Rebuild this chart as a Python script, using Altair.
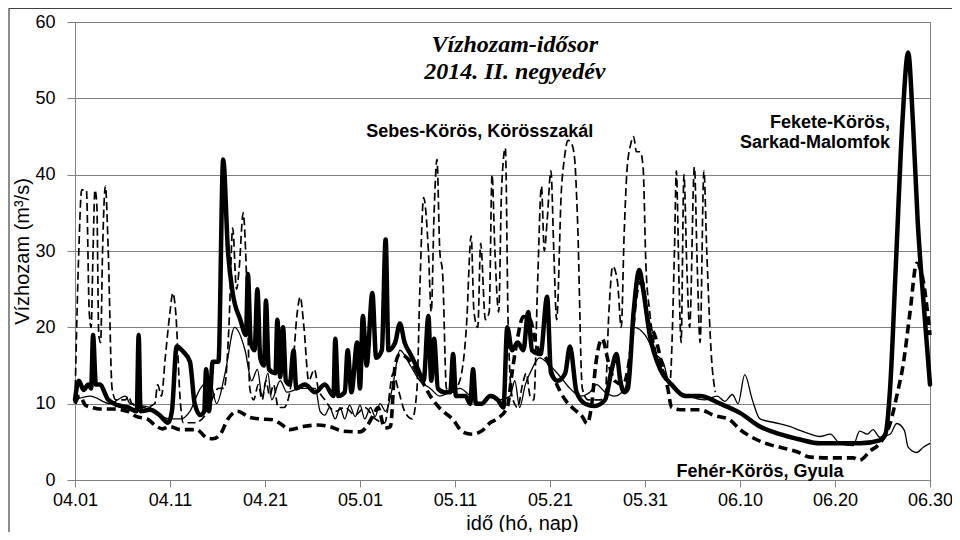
import json
import altair as alt
import pandas as pd

# x = day index from 04.01 (0) to 06.30 (90); y = discharge in m3/s
tick_days = [0, 10, 20, 30, 40, 50, 60, 70, 80, 90]
tick_labels = ["04.01", "04.11", "04.21", "05.01", "05.11", "05.21", "05.31", "06.10", "06.20", "06.30"]
y_ticks = [0, 10, 20, 30, 40, 50, 60]

# Fekete-Körös, Sarkad-Malomfok (thick solid)
fekete = [
    (0, 10.5), (0.4, 13), (0.9, 11.8), (1.4, 12.5), (1.7, 12), (1.9, 19), (2.2, 12.5), (2.6, 12.5),
    (3.5, 10.5), (4.5, 9.8), (5.6, 9.5), (6.5, 9), (6.7, 19), (6.9, 9), (7.9, 9.2), (8.9, 8.5),
    (9.8, 7.5), (10.2, 9), (10.7, 17.5), (11.4, 16.8), (12.1, 15.5), (12.6, 10), (13.2, 8.5),
    (13.6, 9), (13.8, 14.5), (14.1, 9), (14.5, 15.5), (15.1, 15.5), (15.6, 42), (16.1, 30),
    (16.6, 24.5), (17.4, 21), (18.0, 19), (18.2, 27), (18.5, 18), (18.9, 17), (19.2, 25),
    (19.5, 16), (19.9, 15), (20.1, 23.5), (20.4, 14.5), (21.1, 14), (21.3, 21), (21.6, 13.5),
    (21.9, 20), (22.2, 13), (22.6, 12.5), (23.0, 17), (23.3, 12), (24.2, 12.5), (25.3, 11.5),
    (26.3, 12.5), (27.2, 11), (27.4, 18.5), (27.7, 11), (28.4, 11.5), (28.7, 17), (29.1, 11.5),
    (29.7, 18), (30.0, 12), (30.3, 21.5), (30.7, 15), (31.3, 24.5), (31.7, 16), (32.3, 17),
    (32.7, 31.5), (33.0, 17), (33.7, 18), (34.2, 20.5), (34.7, 18), (35.3, 16.5), (36.1, 14.5),
    (36.7, 13), (37.2, 21.5), (37.5, 13), (37.8, 18.5), (38.2, 12), (38.9, 11.5), (39.5, 11.5),
    (39.8, 16.5), (40.1, 11), (41.1, 11), (41.6, 10), (41.9, 14.5), (42.2, 10), (42.8, 10),
    (43.7, 11), (44.5, 10.5), (45.1, 9.5), (45.5, 20), (46.0, 17), (46.6, 18), (47.2, 17),
    (47.7, 22), (48.1, 17), (49.0, 16.5), (49.7, 24), (50.1, 14), (50.8, 13), (51.6, 14),
    (52.1, 17.5), (52.8, 11.5), (53.7, 10), (54.7, 9.7), (55.8, 10.5), (56.5, 14.5), (57.0, 16.5),
    (57.4, 13), (57.8, 11.5), (58.2, 12), (58.8, 22), (59.4, 27.5), (59.8, 25), (60.5, 19),
    (61.6, 14.5), (62.8, 12.5), (64.2, 11), (65.8, 11), (67.9, 10), (70.0, 8.8), (72.1, 7),
    (74.2, 6), (76.3, 5.3), (78.4, 4.8), (82.6, 4.8), (84.7, 5.2), (85.3, 6), (85.8, 12),
    (86.4, 28), (87.1, 47), (87.7, 56), (88.2, 47), (88.7, 34), (89.4, 22), (90.0, 12.5),
]

# Sebes-Körös, Körösszakál (thin dashed)
sebes = [
    (0, 10.5), (0.4, 30), (0.7, 38), (1.2, 38), (1.5, 22), (1.7, 20), (1.9, 30), (2.1, 38),
    (2.3, 36), (2.5, 19), (2.7, 18), (2.9, 30), (3.2, 38.5), (3.5, 30), (3.9, 12), (4.3, 10.5),
    (5.3, 10.5), (5.6, 11), (6.0, 10), (7.4, 9.5), (8.4, 10), (8.7, 12.5), (9.1, 11), (9.5, 16),
    (10.0, 22), (10.3, 24.5), (10.6, 22), (11.1, 10), (11.4, 7.5), (12.6, 7.5), (13.7, 8.5),
    (14.4, 10.5), (15.1, 12), (15.7, 12), (16.2, 20), (16.6, 33), (17.0, 25), (17.3, 28),
    (17.7, 35), (18.1, 25), (18.4, 12), (18.8, 10.5), (19.3, 12.5), (19.7, 10.5), (20.1, 13),
    (20.5, 11), (20.9, 12.5), (21.4, 9.5), (22.0, 9.5), (22.8, 13), (23.4, 22), (23.7, 24),
    (24.1, 20), (24.6, 13), (25.2, 14.5), (25.6, 12), (26.3, 10.5), (27.4, 9), (28.4, 9.5),
    (29.5, 8.5), (30.5, 9.5), (31.6, 8), (32.6, 7.5), (33.5, 14), (34.0, 12), (34.7, 9),
    (35.5, 8), (36.0, 12), (36.3, 25), (36.7, 37), (37.2, 30), (37.5, 22), (37.8, 35),
    (38.1, 42), (38.4, 30), (38.7, 27), (39.1, 12), (39.7, 11.5), (40.5, 13), (41.2, 20),
    (41.7, 32), (42.0, 22), (42.4, 20), (42.7, 31), (43.2, 21), (43.6, 22), (43.9, 40),
    (44.2, 30), (44.6, 22), (44.9, 38), (45.3, 43.5), (45.6, 20), (46.0, 11), (46.6, 9.5),
    (47.1, 12.5), (47.5, 14), (47.9, 11), (48.3, 10.5), (48.7, 26), (49.1, 38.5), (49.4, 30),
    (49.7, 34), (50.1, 40.5), (50.4, 30), (50.7, 21), (51.2, 38), (51.5, 42), (51.9, 44.5),
    (52.3, 44), (52.6, 42), (52.9, 34), (53.4, 12), (54.0, 10.5), (55.3, 10.5), (55.8, 11),
    (56.2, 22), (56.6, 28), (57.1, 26), (57.5, 20), (57.8, 32), (58.1, 40.5), (58.5, 44),
    (58.8, 45), (59.1, 43), (59.5, 43), (59.8, 41), (60.1, 28), (60.5, 22), (61.1, 17),
    (61.9, 14.5), (62.6, 12.5), (63.1, 30), (63.3, 40.5), (63.6, 25), (63.8, 18), (64.1, 40),
    (64.4, 28), (64.7, 20), (65.2, 41), (65.5, 28), (65.8, 18), (66.2, 40.5), (66.5, 30),
    (67.0, 16), (67.4, 11.5),
]

# Fehér-Körös, Gyula (thick dashed)
feher = [
    (0, 10), (0.5, 11), (1.1, 9.8), (1.8, 9.5), (2.6, 9.3), (4.0, 9.3), (5.5, 9), (6.5, 8.3),
    (7.6, 8), (8.6, 7), (9.2, 6.7), (10.0, 7), (11.1, 6.6), (12.8, 6.6), (13.9, 5.5), (14.5, 5.4),
    (15.3, 6), (16.1, 8), (17.1, 9), (18.4, 8.2), (19.5, 8), (20.8, 7.9), (21.6, 7.4), (22.6, 6.6),
    (24.0, 7), (25.5, 7.2), (26.8, 7), (28.2, 6.4), (30.0, 6.3), (30.7, 7), (31.4, 8.5),
    (31.9, 9.5), (32.6, 6.8), (33.2, 7), (33.7, 15), (34.2, 16.5), (35.3, 15.5), (36.3, 13.5),
    (37.4, 11), (38.4, 9.4), (39.8, 7.9), (40.8, 6.3), (41.8, 6), (43.0, 6.6), (43.7, 7.5),
    (44.4, 8), (45.5, 9.5), (46.0, 14), (46.5, 18), (47.2, 21.4), (47.9, 21), (48.6, 17.5),
    (49.7, 15.7), (50.5, 13.1), (51.6, 10.5), (52.6, 9.2), (53.4, 8.3), (53.9, 7.4), (54.4, 10),
    (54.8, 15), (55.5, 18.5), (56.1, 15.7), (56.8, 13), (57.7, 12.5), (58.4, 16), (59.2, 25),
    (59.7, 26), (60.2, 21.5), (61.1, 18.7), (61.8, 15), (62.4, 12), (62.8, 9.5), (63.7, 9.2),
    (65.8, 9.2), (67.2, 8.5), (68.9, 7.9), (70.0, 6.6), (71.4, 5.5), (73.2, 4.6), (74.2, 4.3),
    (76.0, 3.7), (77.4, 3), (79.5, 2.9), (81.9, 2.9), (82.6, 2.6), (83.7, 3.8), (84.7, 4.8),
    (85.8, 7.4), (86.5, 11), (87.2, 15.3), (87.9, 22), (88.6, 28.4), (89.3, 26), (90.0, 19),
]

# unlabelled thin solid series
vekony = [
    (0, 10.5), (1.6, 11), (3.7, 10), (5.3, 11), (5.8, 10), (7.9, 9.5), (8.9, 8.5), (10.0, 8),
    (11.1, 8), (12.1, 9), (13.2, 12), (14.2, 13), (14.9, 10), (15.8, 14), (16.8, 20), (17.9, 17),
    (18.6, 13), (19.2, 14.5), (19.7, 11), (20.3, 14), (20.7, 10.5), (21.6, 13), (22.3, 11.5),
    (23.7, 12), (25.3, 12), (25.8, 9), (26.3, 8.5), (26.8, 9.5), (27.4, 8), (27.9, 9.5),
    (28.4, 8), (28.9, 9.8), (29.5, 8.3), (30.0, 9.8), (30.5, 8), (31.1, 9.5), (31.6, 8.3),
    (32.1, 10), (32.7, 9), (33.4, 12), (34.2, 17), (35.3, 15), (36.3, 13), (37.4, 12),
    (38.4, 11), (39.5, 11.5), (40.5, 12), (41.6, 11), (42.6, 10), (43.7, 11), (44.7, 10.5),
    (45.8, 11), (46.3, 13), (46.8, 9.5), (47.4, 12.5), (47.9, 14), (48.9, 16), (50.0, 15),
    (51.1, 13.5), (52.1, 12), (53.2, 11), (54.2, 11.5), (54.9, 12.5), (55.8, 11.5), (56.8, 11),
    (57.9, 12), (58.9, 20), (60.0, 19), (61.1, 16.5), (61.9, 15.5), (62.6, 12.5), (64.7, 11),
    (66.3, 10.5), (67.6, 11), (68.4, 10.3), (69.2, 11.2), (69.8, 10), (70.5, 13.8), (71.3, 10.5),
    (72.1, 8), (73.7, 7.5), (75.3, 7), (76.3, 6.5), (77.4, 6), (78.4, 5.7), (79.5, 6),
    (80.5, 4.8), (81.9, 4.5), (82.6, 6.4), (83.4, 6), (84.0, 6.6), (84.7, 5.6), (85.8, 6),
    (86.5, 7.4), (87.3, 6.5), (87.7, 4.3), (88.6, 3.6), (89.3, 4.3), (90.0, 4.8),
]

# annotations (day, value, text)
title_lines = [(46.3, 57.0, "Vízhozam-idősor"), (46.3, 53.5, "2014. II. negyedév")]
label_center = [(42.6, 45.6, "Sebes-Körös, Körösszakál"), (72.1, 1.1, "Fehér-Körös, Gyula")]
label_right = [(85.8, 46.8, "Fekete-Körös,"), (85.8, 44.2, "Sarkad-Malomfok")]


def df(pairs):
    return pd.DataFrame(pairs, columns=["nap", "q"])


def tdf(rows):
    return pd.DataFrame(rows, columns=["nap", "q", "txt"])


label_expr = json.dumps(tick_labels) + "[round(datum.value / 10)]"

x_enc = alt.X(
    "nap:Q",
    scale=alt.Scale(domain=[0, 90], nice=False, zero=False),
    axis=alt.Axis(
        values=tick_days, labelExpr=label_expr, grid=False,
        title="idő (hó, nap)", titleFontSize=20, titleFontWeight="normal",
        titleFont="Liberation Sans", titleColor="black",
        titleX=447, titleY=43, titleBaseline="middle",
        labelFont="Liberation Sans", labelFontSize=18, labelColor="black",
        labelPadding=4, tickSize=7, tickColor="#808080", domainColor="#808080",
        labelFlush=False,
    ),
)
y_enc = alt.Y(
    "q:Q",
    scale=alt.Scale(domain=[0, 60], nice=False),
    axis=alt.Axis(
        values=y_ticks, grid=True, gridColor="#808080", gridWidth=1,
        title="Vízhozam (m³/s)", titleFontSize=20, titleFontWeight="normal",
        titleFont="Liberation Sans", titleColor="black",
        titleX=-53, titleY=229, titleBaseline="middle",
        labelFont="Liberation Sans", labelFontSize=18, labelColor="black",
        labelPadding=12, tickSize=8, tickColor="#808080", domainColor="#808080",
    ),
)

line_kw = dict(interpolate="monotone", color="black", strokeJoin="round")

l_sebes = alt.Chart(df(sebes)).mark_line(strokeWidth=1.7, strokeDash=[8, 4], **line_kw).encode(x=x_enc, y=y_enc)
l_vekony = alt.Chart(df(vekony)).mark_line(strokeWidth=1.3, **line_kw).encode(x=x_enc, y=y_enc)
l_feher = alt.Chart(df(feher)).mark_line(strokeWidth=3.6, strokeDash=[9, 5], **line_kw).encode(x=x_enc, y=y_enc)
l_fekete = alt.Chart(df(fekete)).mark_line(strokeWidth=4.5, strokeCap="round", **line_kw).encode(x=x_enc, y=y_enc)

t_title = alt.Chart(tdf(title_lines)).mark_text(
    font="Liberation Serif", fontSize=24, fontStyle="italic", fontWeight="bold",
    align="center", baseline="middle", color="black",
).encode(x="nap:Q", y="q:Q", text="txt:N")

t_center = alt.Chart(tdf(label_center)).mark_text(
    font="Liberation Sans", fontSize=18, fontWeight="bold",
    align="center", baseline="middle", color="black",
).encode(x="nap:Q", y="q:Q", text="txt:N")

t_right = alt.Chart(tdf(label_right)).mark_text(
    font="Liberation Sans", fontSize=18, fontWeight="bold",
    align="right", baseline="middle", color="black",
).encode(x="nap:Q", y="q:Q", text="txt:N")

dummy = pd.DataFrame({"a": [0]})
frame_top = alt.Chart(dummy).mark_rule(color="#404040", strokeWidth=1.2).encode(
    x=alt.value(-66), x2=alt.value(885), y=alt.value(-13.5)
)
frame_left = alt.Chart(dummy).mark_rule(color="#404040", strokeWidth=1.2).encode(
    x=alt.value(-66), y=alt.value(-14), y2=alt.value(520)
)

chart = alt.layer(
    l_sebes, l_vekony, l_feher, l_fekete, t_title, t_center, t_right, frame_top, frame_left
).properties(
    width=855, height=458,
    autosize=alt.AutoSizeParams(type="none"),
    padding={"left": 67, "top": 14, "right": 22, "bottom": 52},
    background="white",
).configure_view(stroke="#808080", strokeWidth=1)

chart.save("out.html", embed_options={"renderer": "svg", "actions": False})
